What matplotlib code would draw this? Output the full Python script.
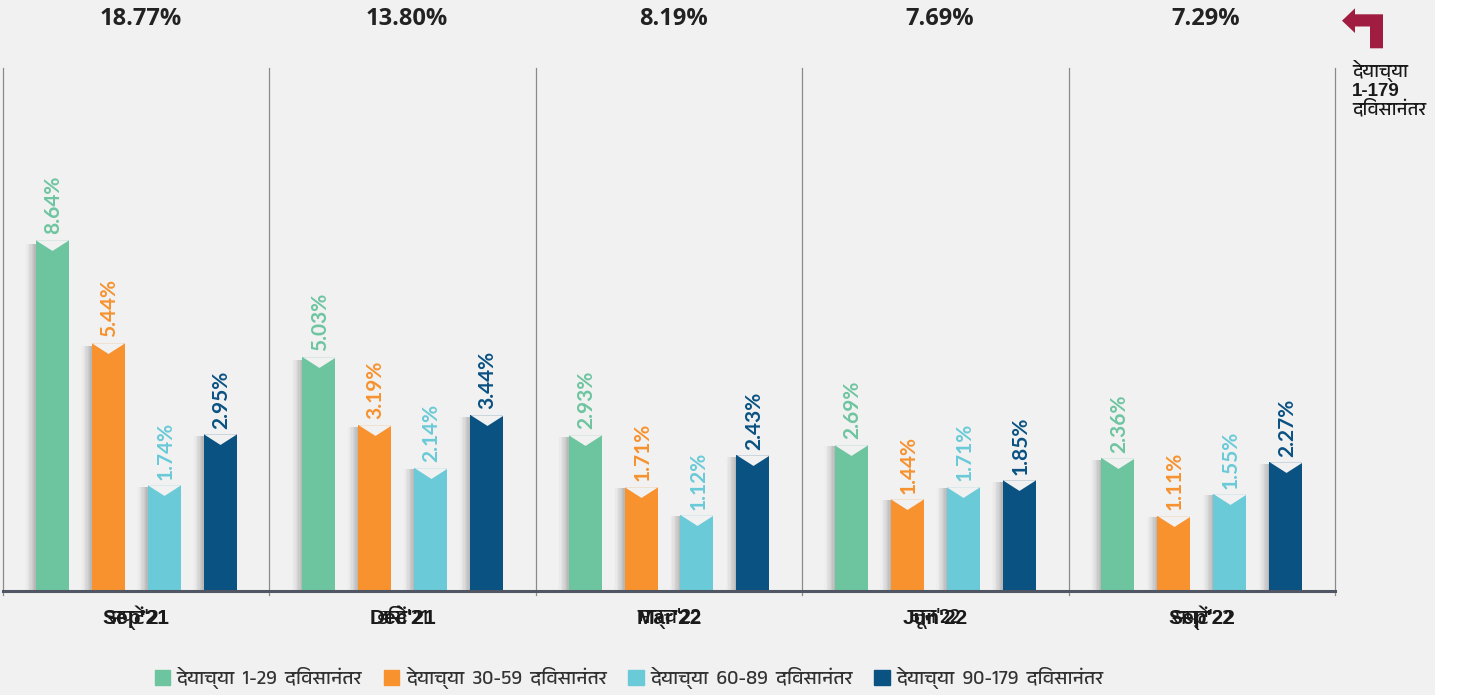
import matplotlib
matplotlib.use("Agg")
import matplotlib.pyplot as plt
import matplotlib.font_manager as fm
from matplotlib.patches import Rectangle, Polygon
from matplotlib.path import Path
from matplotlib.markers import MarkerStyle
import numpy as np

# ---------------- data ----------------
periods_mr = ["सप्टें'21", "डिसें'21", "मार्च'22", "जून'22", "सप्टें'22"]
periods_en = ["Sep'21", "Dec'21", "Mar'22", "Jun'22", "Sep'22"]
totals = ["18.77%", "13.80%", "8.19%", "7.69%", "7.29%"]
series_names = ["देयाच्या  1-29  दिवसानंतर", "देयाच्या  30-59  दिवसानंतर",
                "देयाच्या  60-89  दिवसानंतर", "देयाच्या  90-179  दिवसानंतर"]
dpd_1_29 = [8.64, 5.03, 2.93, 2.69, 2.36]
dpd_30_59 = [5.44, 3.19, 1.71, 1.44, 1.11]
dpd_60_89 = [1.74, 2.14, 1.12, 1.71, 1.55]
dpd_90_179 = [2.95, 3.44, 2.43, 1.85, 2.27]
side_label = "देयाच्या\n1-179\nदिवसानंतर"

series = [dpd_1_29, dpd_30_59, dpd_60_89, dpd_90_179]
colors = ["#6DC5A0", "#F7922F", "#6ACAD7", "#0A5282"]
BG = "#F1F1F1"

# ---------------- fonts ----------------
def find_deva():
    try:
        from fontTools.ttLib import TTFont
    except Exception:
        return []
    found = []
    seen = set()
    for f in fm.fontManager.ttflist:
        if f.name in seen:
            continue
        try:
            kw = {}
            if f.fname.lower().endswith(".ttc"):
                kw["fontNumber"] = 0
            t = TTFont(f.fname, lazy=True, **kw)
            cm = t.getBestCmap()
            if cm and 0x0926 in cm:
                found.append(f.name)
                seen.add(f.name)
        except Exception:
            pass
    found.sort(key=lambda n: (0 if "Devanagari" in n else 1, n))
    return found

deva = find_deva()
deva_fam = deva[:1]
lat_fam = ["Liberation Sans Narrow", "Liberation Sans", "DejaVu Sans"]

W, H = 1463, 695
fig = plt.figure(figsize=(W / 100, H / 100), dpi=100, facecolor="white")
fig.patches.append(Rectangle((0, 0), 1435 / W, 1, transform=fig.transFigure,
                             facecolor=BG, edgecolor="none", zorder=-10))

ax_l, ax_r, ax_b, ax_t = 3, 1335, 591, 68
ax = fig.add_axes([ax_l / W, 1 - ax_b / H, (ax_r - ax_l) / W, (ax_b - ax_t) / H])
ax.set_facecolor("none")

p = 0.75
ax.set_yscale("function", functions=(lambda v: np.sign(v) * np.abs(v) ** p,
                                      lambda v: np.sign(v) * np.abs(v) ** (1 / p)))
ax.set_ylim(0, 14.7)
ax.set_xlim(-0.5, 4.5)

x = np.arange(len(periods_en))
bw = 0.124
offs = [-0.315, -0.105, 0.105, 0.315]

# notch marker (V cut at the top of each bar)
notch = MarkerStyle(Path([(-1, 0.02), (1, 0.02), (0, -0.62), (-1, 0.02)],
                         [Path.MOVETO, Path.LINETO, Path.LINETO, Path.CLOSEPOLY]))
bar_pt = bw * (ax_r - ax_l) / 5 * 0.72

nsh = 8
shtot = 0.04
shw = shtot / nsh
for vals, col, off, name in zip(series, colors, offs, series_names):
    xs = x + off
    # soft shadow on the left of each bar
    for k in range(nsh):
        a = 0.42 * ((k + 1) / nsh) ** 1.5
        ax.bar(xs - bw / 2 - shtot + (k + 0.5) * shw, np.array(vals) * 0.985, width=shw,
               color="#6a6a6a", alpha=a, linewidth=0, zorder=1)
    ax.bar(xs, vals, width=bw, color=col, linewidth=0, zorder=2, label=name)
    ax.scatter(xs, vals, marker=notch, s=(bar_pt * 1.02) ** 2, color=BG,
               linewidths=0, zorder=3)
    for xi, v in zip(xs, vals):
        ax.annotate(f"{v:.2f}%", (xi, v), xytext=(0.8, 4), textcoords="offset points",
                    rotation=90, ha="center", va="bottom", color=col,
                    fontsize=15, fontweight="bold", family=["Lato", "DejaVu Sans"])

# separators
for s in np.arange(-0.5, 5.0, 1.0):
    ax.axvline(s, ymin=-0.008, ymax=1, color="#8a8a8a", lw=0.9, clip_on=False, zorder=0)

for sp in ["top", "left", "right"]:
    ax.spines[sp].set_visible(False)
ax.spines["bottom"].set_color("#505664")
ax.spines["bottom"].set_linewidth(2.2)
ax.set_xticks([])
ax.set_yticks([])

# period labels (Marathi and English overlaid)
for xi, mr, en, tot in zip(x, periods_mr, periods_en, totals):
    ax.annotate(en, (xi, 0), xycoords=("data", "axes fraction"), xytext=(0, -19.5),
                textcoords="offset points", ha="center", va="center", fontsize=15,
                fontweight="bold", color="#1a1a1a", family=lat_fam)
    ax.annotate(mr, (xi, 0), xycoords=("data", "axes fraction"), xytext=(0, -19.5),
                textcoords="offset points", ha="center", va="center", fontsize=15,
                fontweight="bold", color="#1a1a1a", family=deva_fam + lat_fam)
    ax.annotate(tot, (xi, 1), xycoords=("data", "axes fraction"), xytext=(3, 35),
                textcoords="offset points", ha="center", va="center", fontsize=17,
                fontweight="bold", color="#222222", family=["Open Sans", "DejaVu Sans"])

# legend
handles = [Rectangle((0, 0), 1, 1, color=c) for c in colors]
leg = fig.legend(handles, series_names, loc="center", bbox_to_anchor=(629 / W, 1 - 678 / H),
                 ncol=4, frameon=False, handlelength=0.8, handleheight=0.8,
                 handletextpad=0.35, columnspacing=1.1,
                 prop=fm.FontProperties(family=["Liberation Sans Narrow"] + deva_fam + lat_fam,
                                        size=14))
for t in leg.get_texts():
    t.set_color("#333333")

# arrow icon (top right)
def px(xp, yp):
    return (xp / W, 1 - yp / H)
arrow_pts = [px(1342, 20.7), px(1355, 8.3), px(1355, 14.3), px(1383, 14.3),
             px(1383, 48.3), px(1370, 48.3), px(1370, 26.5), px(1355, 26.5), px(1355, 33)]
fig.patches.append(Polygon(arrow_pts, closed=True, transform=fig.transFigure,
                           facecolor="#A01C40", edgecolor="none"))
fig.text(1352 / W, 1 - 60 / H, side_label, ha="left", va="top", fontsize=13.5,
         fontweight="bold", color="#1a1a1a", linespacing=1.05,
         family=["Liberation Sans"] + deva_fam + ["DejaVu Sans"])

fig.savefig("out.png", dpi=100, facecolor=fig.get_facecolor())
